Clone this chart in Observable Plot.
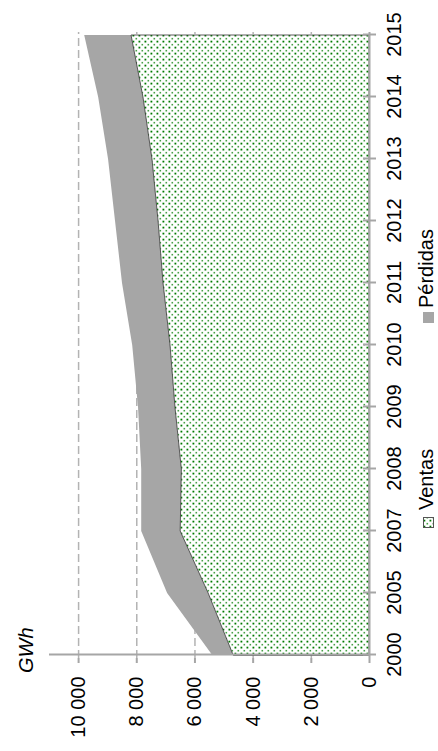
<!DOCTYPE html>
<html><head><meta charset="utf-8">
<script src="https://cdn.jsdelivr.net/npm/d3@7"></script>
<script src="https://cdn.jsdelivr.net/npm/@observablehq/plot@0.6"></script>
<style>
html,body{margin:0;padding:0;background:#fff;overflow:hidden;}
body{width:438px;height:751px;position:relative;font-family:"Liberation Sans",Arial,sans-serif;color:#000;}
#wrap{position:absolute;left:0;top:0;width:751px;height:438px;transform-origin:0 0;transform:translate(0,751px) rotate(-90deg);}
#chart{position:absolute;left:0;top:0;}
#unit{position:absolute;left:78px;top:16px;font-size:20px;line-height:20px;font-style:italic;}
.leg{position:absolute;top:416px;font-size:20px;line-height:20px;white-space:nowrap;}
.sw{position:absolute;top:423px;width:11px;height:11px;}
</style></head><body>
<div id="wrap"><div id="chart"></div><div id="unit">GWh</div><div id="legend"></div></div>
<script>
const years = ["2000","2005","2007","2008","2009","2010","2011","2012","2013","2014","2015"];
const ventas = [4670,5530,6490,6450,6670,6840,7080,7250,7460,7770,8180];
const perdidas = [720,1410,1340,1380,1270,1300,1410,1480,1510,1540,1610];
const valueTicks = [0,2000,4000,6000,8000,10000];
const seriesNames = ["Ventas","Pérdidas"];

const rows = years.map((y,i)=>({year:y, ventas:ventas[i], total:ventas[i]+perdidas[i]}));
const fmt = d3.formatLocale({decimal:",", thousands:" ", grouping:[3]}).format(",");
const FONT = "'Liberation Sans', Arial, sans-serif";

const plot = Plot.plot({
  width:751, height:410, marginLeft:93, marginRight:32, marginTop:49, marginBottom:41,
  style:{fontSize:"20px", fontFamily:FONT, color:"#000", background:"transparent", overflow:"visible"},
  x:{type:"point", domain:years, padding:0, label:null},
  y:{domain:[0,11000], label:null},
  marks:[
    Plot.gridY(valueTicks.filter(d=>d>0), {stroke:"#b3b3b3", strokeOpacity:1, strokeWidth:1.5, strokeDasharray:"8,4"}),
    Plot.areaY(rows, {x:"year", y1:"ventas", y2:"total", fill:"#a6a6a6"}),
    Plot.areaY(rows, {x:"year", y1:0, y2:"ventas", fill:"url(#dots)", stroke:"#333", strokeWidth:0.8}),
    Plot.ruleY([0], {stroke:"#a6a6a6", strokeWidth:2}),
    Plot.ruleX([years[0]], {stroke:"#a6a6a6", strokeWidth:2}),
    Plot.axisY({ticks:valueTicks, tickFormat:fmt, tickSize:5, tickPadding:14, stroke:"#a6a6a6", strokeWidth:2, fill:"#000", fontSize:20, fontFamily:FONT, label:null}),
    Plot.axisX({tickSize:13, tickPadding:10, dy:-6, stroke:"#a6a6a6", strokeWidth:2, fill:"#000", fontSize:20, fontFamily:FONT, label:null})
  ]
});
const svg = d3.select(plot);
const defs = svg.insert("defs", ":first-child");
function addPattern(defs, id){
  const pat = defs.append("pattern").attr("id",id).attr("patternUnits","userSpaceOnUse").attr("width",6).attr("height",6);
  pat.append("rect").attr("width",6).attr("height",6).attr("fill","#fff");
  pat.append("rect").attr("x",0.5).attr("y",0.5).attr("width",1.8).attr("height",1.8).attr("fill","#007a00");
  pat.append("rect").attr("x",3.5).attr("y",3.5).attr("width",1.6).attr("height",1.6).attr("fill","#45a045");
}
addPattern(defs, "dots");
document.getElementById("chart").appendChild(plot);

// legend
const legend = d3.select("#legend");
const legPos = [{sw:223, tx:241}, {sw:428, tx:443}];
seriesNames.forEach((name,i)=>{
  const s = legend.append("svg").attr("class","sw").attr("width",11).attr("height",11).style("left", legPos[i].sw+"px");
  if (i===0){
    addPattern(s.append("defs"), "dotsLeg");
    s.append("rect").attr("x",0.5).attr("y",0.5).attr("width",10).attr("height",10).attr("fill","url(#dotsLeg)").attr("stroke","#555").attr("stroke-width",1);
  } else {
    s.append("rect").attr("width",11).attr("height",11).attr("fill","#a6a6a6");
  }
  legend.append("div").attr("class","leg").style("left", legPos[i].tx+"px").text(name);
});
</script>
</body></html>
